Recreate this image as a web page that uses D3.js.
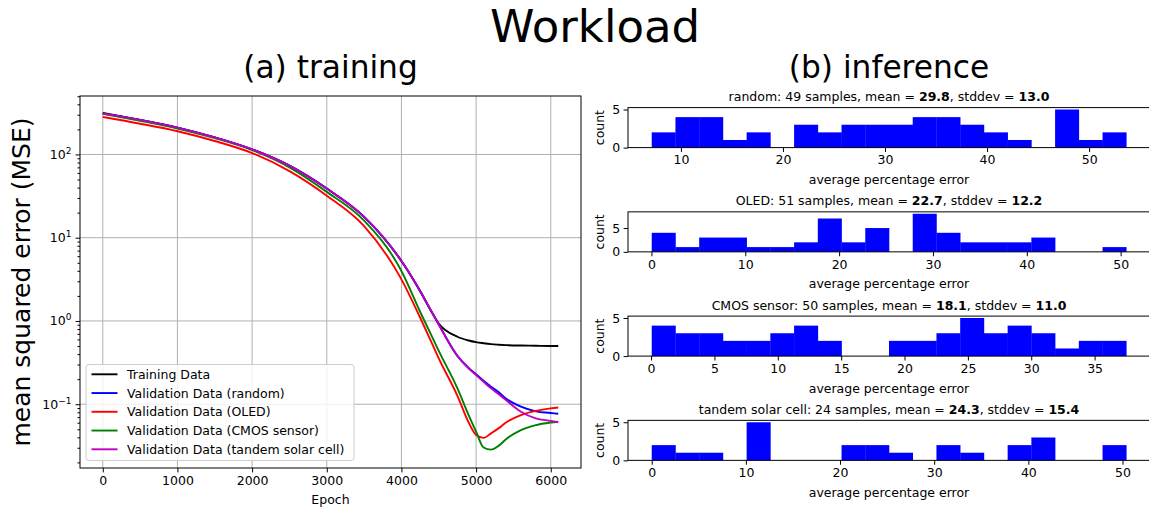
<!DOCTYPE html>
<html><head><meta charset="utf-8">
<script src="https://cdn.jsdelivr.net/npm/d3@7"></script>
<style>
body{margin:0;background:#fff}
svg{display:block}
text{font-family:"DejaVu Sans",sans-serif;fill:#000}
</style>
</head><body>
<svg id="c" width="1149" height="508"></svg>
<script>
// ---------- (a) training data ----------
const epochs   = [0,500,1000,1500,2000,2500,3000,3500,4000,4250,4400,4500,4750,4900,5000,5100,5200,5300,5400,5600,5800,6000,6100];
const training = [316,260,210,160,115,73.3,38.9,17.8,5.25,2.29,1.31,0.933,0.646,0.582,0.556,0.540,0.527,0.519,0.513,0.507,0.504,0.501,0.501];
const valRandom= [309,260,210,160,115,73.3,38.9,17.8,5.25,2.29,1.31,0.906,0.380,0.272,0.229,0.191,0.162,0.140,0.117,0.0933,0.0822,0.0785,0.0767];
const valOLED  = [282,234,190,145,104,63.1,32.0,13.8,3.16,1.10,0.562,0.355,0.126,0.0603,0.0427,0.0394,0.0447,0.0513,0.0603,0.0741,0.0832,0.0891,0.0912];
const valCMOS  = [309,254,205,157,113,70.0,35.5,16.0,3.98,1.29,0.676,0.437,0.155,0.0741,0.0468,0.0302,0.0285,0.0316,0.0380,0.0490,0.0562,0.0603,0.0617];
const valTandem= [309,260,210,160,115,73.3,38.9,17.8,5.25,2.29,1.31,0.906,0.380,0.269,0.224,0.186,0.155,0.133,0.112,0.0813,0.0676,0.0631,0.0608];
const seriesLabels = ["Training Data","Validation Data (random)","Validation Data (OLED)","Validation Data (CMOS sensor)","Validation Data (tandem solar cell)"];
const seriesColors = ["#000000","#0000ff","#ff0000","#008000","#bf00bf"];
const xTicks = [0,1000,2000,3000,4000,5000,6000];
const yMajor = [0.1,1,10,100];
const yExp   = ["\u22121","0","1","2"];

// ---------- (b) inference data ----------
const histNames   = ["random","OLED","CMOS sensor","tandem solar cell"];
const histSamples = [49,51,50,24];
const histMean    = ["29.8","22.7","18.1","24.3"];
const histStd     = ["13.0","12.2","11.0","15.4"];
const countsRandom = [2,4,4,1,2,0,3,2,3,3,3,4,4,3,2,1,0,5,1,2];
const countsOLED   = [4,1,3,3,1,1,2,7,2,5,0,8,4,2,2,2,3,0,0,1];
const countsCMOS   = [4,3,3,2,2,3,4,2,0,0,2,2,3,5,3,4,3,1,2,2];
const countsTandem = [2,1,1,0,5,0,0,0,2,2,1,0,2,1,0,2,3,0,0,2];
const histMin = [7.14,0.03,0.05,0.0];
const histMax = [53.64,50.6,37.5,50.4];
const ticksRandom = [10,20,30,40,50];
const ticksOLED   = [0,10,20,30,40,50];
const ticksCMOS   = [0,5,10,15,20,25,30,35];
const ticksTandem = [0,10,20,30,40,50];
const countTicks  = [0,5];

const svg = d3.select("#c");
const FS = 12.5;

// titles
svg.append("text").attr("x",595).attr("y",42).attr("text-anchor","middle").style("font-size","45px").text("Workload");
svg.append("text").attr("x",330.5).attr("y",78).attr("text-anchor","middle").style("font-size","31.25px").text("(a) training");
svg.append("text").attr("x",889).attr("y",78).attr("text-anchor","middle").style("font-size","31.25px").text("(b) inference");

// ---------- left chart ----------
const L = {l:80,r:581,t:96,b:468};
const x = d3.scaleLinear().domain([-305,6405]).range([L.l,L.r]);
const y = d3.scaleLog().domain([Math.pow(10,-1.766),Math.pow(10,2.702)]).range([L.b,L.t]);
const gL = svg.append("g");
// grid
gL.selectAll(".gx").data(xTicks).join("line").attr("x1",d=>x(d)).attr("x2",d=>x(d)).attr("y1",L.t).attr("y2",L.b)
  .attr("stroke","#b0b0b0").attr("stroke-width",1);
gL.selectAll(".gy").data(yMajor).join("line").attr("y1",d=>y(d)).attr("y2",d=>y(d)).attr("x1",L.l).attr("x2",L.r)
  .attr("stroke","#b0b0b0").attr("stroke-width",1);
// lines
const allSeries = [training,valRandom,valOLED,valCMOS,valTandem];
const line = d3.line().x((d,i)=>x(epochs[i])).y(d=>y(d)).curve(d3.curveMonotoneX);
allSeries.forEach((s,k)=>{
  gL.append("path").datum(s).attr("d",line).attr("fill","none").attr("stroke",seriesColors[k]).attr("stroke-width",1.9);
});
// axes
const xa = gL.append("g").attr("transform",`translate(0,${L.b})`).call(d3.axisBottom(x).tickValues(xTicks).tickSize(4.4).tickPadding(3.5).tickFormat(d3.format("d")));
xa.select(".domain").remove();
xa.selectAll("text").style("font-size",FS+"px").style("font-family","DejaVu Sans");
const ya = gL.append("g").attr("transform",`translate(${L.l},0)`).call(d3.axisLeft(y).tickValues(yMajor).tickSize(4.4).tickFormat(""));
ya.select(".domain").remove();
// minor ticks
const minor=[];
for(let e=-2;e<=2;e++){for(let m=2;m<=9;m++){const v=m*Math.pow(10,e); if(v>y.domain()[0]&&v<y.domain()[1]) minor.push(v);}}
const ym = gL.append("g").attr("transform",`translate(${L.l},0)`).call(d3.axisLeft(y).tickValues(minor).tickSize(2.5).tickFormat(""));
ym.select(".domain").remove();
// y tick labels with superscripts
yMajor.forEach((v,i)=>{
  const t = gL.append("text").attr("x",L.l-8.5).attr("y",y(v)+4.5).attr("text-anchor","end").style("font-size",FS+"px");
  t.append("tspan").text("10");
  t.append("tspan").attr("dy",-5).style("font-size","9px").text(yExp[i]);
});
// frame
gL.append("rect").attr("x",L.l).attr("y",L.t).attr("width",L.r-L.l).attr("height",L.b-L.t).attr("fill","none").attr("stroke","#000").attr("stroke-width",1);
gL.append("text").attr("x",(L.l+L.r)/2).attr("y",503.5).attr("text-anchor","middle").style("font-size",FS+"px").text("Epoch");
gL.append("text").attr("transform",`translate(30,${(L.t+L.b)/2}) rotate(-90)`).attr("text-anchor","middle").style("font-size","25px").text("mean squared error (MSE)");
// legend
const lg = gL.append("g");
lg.append("rect").attr("x",86).attr("y",364.5).attr("width",268).attr("height",96).attr("rx",3)
  .attr("fill","#fff").attr("fill-opacity",0.8).attr("stroke","#cccccc").attr("stroke-width",1);
seriesLabels.forEach((lab,k)=>{
  const yy = 374.3 + k*18.75;
  lg.append("line").attr("x1",91.5).attr("x2",117.5).attr("y1",yy).attr("y2",yy).attr("stroke",seriesColors[k]).attr("stroke-width",1.9);
  lg.append("text").attr("x",127).attr("y",yy+4.5).style("font-size",FS+"px").text(lab);
});

// ---------- right histograms ----------
const allCounts = [countsRandom,countsOLED,countsCMOS,countsTandem];
const allTicks  = [ticksRandom,ticksOLED,ticksCMOS,ticksTandem];
const H = {l:628,r:1150,h:40};
allCounts.forEach((counts,i)=>{
  const top = 107.6 + i*104.25, bot = top + H.h;
  const lo = histMin[i], hi = histMax[i], rg = hi-lo;
  const xh = d3.scaleLinear().domain([lo-0.05*rg, hi+0.05*rg]).range([H.l,H.r]);
  const yh = d3.scaleLinear().domain([0, d3.max(counts)*1.05]).range([bot,top]);
  const g = svg.append("g");
  const bw = rg/counts.length;
  g.selectAll("rect.bar").data(counts).join("rect").attr("class","bar")
    .attr("x",(d,j)=>xh(lo+j*bw)).attr("width",(d,j)=>xh(lo+(j+1)*bw)-xh(lo+j*bw)+0.3)
    .attr("y",d=>yh(d)).attr("height",d=>bot-yh(d)).attr("fill","#0000ff");
  const xa2 = g.append("g").attr("transform",`translate(0,${bot})`).call(d3.axisBottom(xh).tickValues(allTicks[i]).tickSize(4.4).tickPadding(3.5).tickFormat(d3.format("d")));
  xa2.select(".domain").remove();
  xa2.selectAll("text").style("font-size",FS+"px").style("font-family","DejaVu Sans");
  const ya2 = g.append("g").attr("transform",`translate(${H.l},0)`).call(d3.axisLeft(yh).tickValues(countTicks).tickSize(4.4).tickPadding(3.5).tickFormat(d3.format("d")));
  ya2.select(".domain").remove();
  ya2.selectAll("text").style("font-size",FS+"px").style("font-family","DejaVu Sans");
  g.append("rect").attr("x",H.l).attr("y",top).attr("width",H.r-H.l).attr("height",H.h).attr("fill","none").attr("stroke","#000").attr("stroke-width",1);
  const tt = g.append("text").attr("x",(H.l+H.r)/2).attr("y",top-6.5).attr("text-anchor","middle").style("font-size",FS+"px");
  tt.append("tspan").text(`${histNames[i]}: ${histSamples[i]} samples, mean = `);
  tt.append("tspan").style("font-weight","bold").text(histMean[i]);
  tt.append("tspan").text(", stddev = ");
  tt.append("tspan").style("font-weight","bold").text(histStd[i]);
  g.append("text").attr("x",(H.l+H.r)/2).attr("y",bot+36.5).attr("text-anchor","middle").style("font-size",FS+"px").text("average percentage error");
  g.append("text").attr("transform",`translate(603.5,${top+H.h/2}) rotate(-90)`).attr("text-anchor","middle").style("font-size",FS+"px").text("count");
});
</script>
</body></html>
